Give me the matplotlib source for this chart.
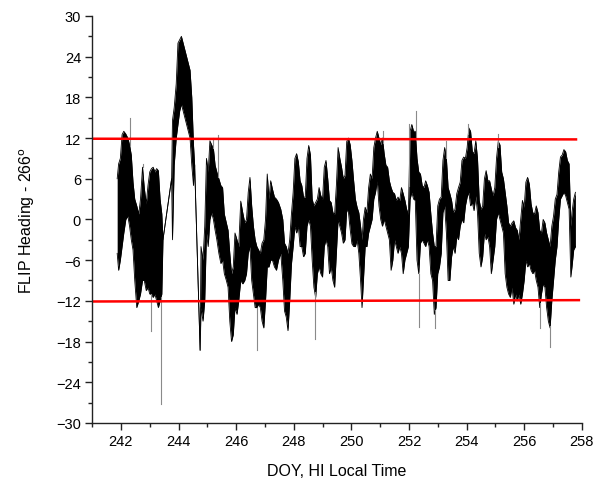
import numpy as np
import matplotlib
matplotlib.use("Agg")
import matplotlib.pyplot as plt
from matplotlib.ticker import MultipleLocator

plt.rcParams['font.family'] = ['Liberation Sans', 'DejaVu Sans']

# ====================================================
# Data (band of the heading trace)
# ====================================================

doy = [241.87, 241.92, 241.98, 242.04, 242.10, 242.17, 242.24, 242.30, 242.36, 242.42,
       242.48, 242.55, 242.62, 242.68, 242.75, 242.81, 242.88, 242.94, 243.00, 243.06,
       243.12, 243.18, 243.24, 243.30, 243.36, 243.42, 243.46, 243.76, 243.79, 243.85,
       243.92, 243.98, 244.04, 244.10, 244.16, 244.22, 244.28, 244.34, 244.40, 244.46,
       244.52, 244.56, 244.75, 244.78, 244.85, 244.91, 244.97, 245.03, 245.09, 245.15,
       245.21, 245.27, 245.33, 245.40, 245.47, 245.53, 245.59, 245.66, 245.72, 245.78,
       245.84, 245.90, 245.96, 246.03, 246.09, 246.16, 246.23, 246.30, 246.36, 246.42,
       246.48, 246.54, 246.60, 246.66, 246.72, 246.78, 246.84, 246.90, 246.96, 247.02,
       247.08, 247.14, 247.20, 247.26, 247.33, 247.40, 247.47, 247.55, 247.62, 247.68,
       247.74, 247.80, 247.86, 247.92, 247.98, 248.04, 248.10, 248.16, 248.22, 248.28,
       248.34, 248.40, 248.46, 248.52, 248.58, 248.64, 248.70, 248.76, 248.82, 248.88,
       248.94, 249.00, 249.06, 249.12, 249.18, 249.24, 249.30, 249.36, 249.42, 249.48,
       249.54, 249.60, 249.66, 249.72, 249.78, 249.84, 249.90, 249.96, 250.02, 250.08,
       250.14, 250.20, 250.26, 250.32, 250.37, 250.42, 250.48, 250.54, 250.60, 250.66,
       250.72, 250.78, 250.84, 250.90, 250.96, 251.02, 251.08, 251.14, 251.20, 251.26,
       251.32, 251.38, 251.44, 251.50, 251.56, 251.62, 251.68, 251.74, 251.80, 251.86,
       251.92, 251.98, 252.04, 252.10, 252.16, 252.22, 252.28, 252.34, 252.40, 252.46,
       252.52, 252.58, 252.64, 252.70, 252.76, 252.82, 252.88, 252.94, 253.00, 253.06,
       253.12, 253.18, 253.24, 253.30, 253.36, 253.42, 253.48, 253.54, 253.60, 253.66,
       253.72, 253.78, 253.84, 253.90, 253.96, 254.02, 254.08, 254.14, 254.20, 254.26,
       254.32, 254.38, 254.44, 254.50, 254.56, 254.62, 254.68, 254.74, 254.80, 254.86,
       254.92, 254.98, 255.04, 255.10, 255.16, 255.22, 255.28, 255.34, 255.40, 255.46,
       255.52, 255.58, 255.64, 255.70, 255.76, 255.82, 255.88, 255.94, 256.00, 256.06,
       256.12, 256.18, 256.24, 256.30, 256.36, 256.42, 256.48, 256.54, 256.60, 256.66,
       256.72, 256.78, 256.84, 256.90, 256.96, 257.02, 257.08, 257.14, 257.20, 257.26,
       257.32, 257.38, 257.44, 257.50, 257.56, 257.62, 257.66, 257.72, 257.78]

heading_lo = [-5, -7.5, -6, -4, -2, 0, 0.5, -1, -3, -4.5,
              -9, -13, -12, -11, -9, -9, -10.5, -10, -11, -11,
              -11.5, -11, -12, -13, -12, -11, -3, 6, -3, 8,
              12, 14, 16, 17, 16, 15, 14, 13, 12, 8,
              5, 8, -19.3, -13, -15, -12, -2, -4, 0, 1,
              0, -1.6, -3, -5, -6.5, -6, -8, -9, -10, -15,
              -18, -17, -13, -14, -12, -9, -9.5, -9, -8, -5,
              -4, -9, -11, -13, -13, -12.5, -13, -15, -16, -12,
              -7, -7, -6, -6, -7, -7.5, -6, -5, -9, -13.5,
              -14.4, -16.4, -12, -6.6, -4, -1, -2, -1, -4, -4,
              -5.5, -5, -1, 0, -1, -6, -10, -11.5, -8, -7,
              -8, -8.5, -4, -3, -4, -8, -7, -9, -10, -5,
              0, -1, -2, -3.5, -3, 1.5, 1, -1.5, -3.6, -4,
              -4, -3, -5, -9, -13, -9, -4, -4, -2, -1,
              0, 3, 4, 5.7, 2, 0, -1, 0, -1, -2,
              -3, -7.5, -6, -3, -4, -5, -4, -5, -8, -6,
              -5, -4, 3, 4, 3, 2.8, -6, -8, -3.5, -3,
              -3.5, -4, -3, -4, -8, -9, -14, -13, -8, -7,
              -5, 1, 2, -2, -9, -9, -5.5, -4, -5, -2.5,
              -3, -1, 0, -0.5, 2, 3.3, 4, 2, 2.5, 1.3,
              3.5, 1, -5, -7, -5.5, -2, -3, -2.5, -4, -8,
              -6, -4, 0, 1, 0, -1, -2, -8, -10, -11,
              -11.5, -10, -12.5, -11, -12, -11, -12.5, -11, -9, -6,
              -7, -6.5, -7.5, -8, -7.5, -9, -10, -13, -11, -9.5,
              -10, -13, -15, -16, -12, -9, -6, -4, 0, 3,
              3.5, 4, 3.5, 2.5, 1.5, -8.5, -7, -4.5, -4]

heading_hi = [6, 8.2, 9, 12.5, 13, 12.6, 12, 11, 9.5, 5.5,
              3, 2, 0.8, 3, 7.7, 4.7, 2.3, 5, 7, 7.5,
              7.7, 7, 7.5, 7.2, 3, 0.8, -3, 6, 14.6, 16.5,
              20, 26, 26.5, 27, 26, 25, 24, 23, 22, 18,
              11, 8, -19.3, -4, -6, -1, 9, 7, 11.6, 11,
              10.5, 8, 7, 6, 5, 4.7, 0.8, -0.5, -1.6, -5,
              -8, -7, -2, -3, -4, 2.7, 1, -0.5, 0, 4,
              6.2, 2, -1, -3, -4, -4.5, -5, -3.5, -3, 0,
              6.7, 3, 5.7, 4.5, 3.3, 3, 2.5, 1.5, 0, -3.5,
              -4, -5, -3, 0.8, 4, 9, 9.7, 8.5, 5.7, 5,
              3.3, 3.3, 9, 10.9, 9.5, 3, 2, 2.5, 3, 4.7,
              3.5, 3, 7.7, 8.7, 6, 2.8, 2.5, 1, 0.8, 5,
              10.6, 9, 7.7, 6, 6.5, 11.5, 12, 11, 8.7, 5.7,
              3, 1.8, 1, -1, -3, 0, 1.8, 1, 4.7, 6.7,
              6, 10.6, 12, 13, 12, 11, 12, 9.7, 8, 7.7,
              5.7, 4.7, 4, 3.8, 2.8, 3.3, 2.8, 4.7, 3.8, 2.8,
              1.5, 0.8, 13, 14, 13, 13, 9, 7, 6.7, 5,
              4.7, 5.7, 5, 4, 0.8, -2, -4, -4, 2, 3,
              3.3, 8.7, 10.6, 9, 4.7, 3.8, 2.8, 1, 1.5, 3.8,
              4.7, 5.5, 8.7, 9.2, 9, 10.6, 13.5, 13, 10, 9.7,
              11.6, 9, 2.8, 1.5, 2, 6, 7.2, 5.7, 5.7, 4.5,
              3.5, 4.7, 9, 11.5, 11, 7, 6, 4, 2, -0.5,
              -1, -0.5, -0.2, -1.2, -1.6, -3, 0, 2.8, 1.8, 5.5,
              6.2, 5.2, 2.3, 1, 0.8, 2, 1, -1.6, -2, 0,
              -0.5, -2, -3, -4, -1, 0.5, 3, 3.7, 7, 9.2,
              9.5, 10.3, 10, 8.7, 8.2, -1, 1, 3, 4]

# isolated spikes (thin grey excursions)
spike_doy = [242.30, 242.75, 243.04, 243.39, 245.20, 245.38, 246.71, 248.73, 251.10,
             252.00, 252.24, 252.34, 252.92, 253.30, 254.06, 255.08, 256.56, 256.88]
spike_val = [15, 8.2, -16.4, -27.2, 12, 12.4, -19.3, -17.6, 13,
             14, 16, -15.9, -16, 11.6, 14, 12.6, -16, -18.8]

# red limit lines
limit_x_upper = [241.0, 257.8]
limit_upper = [11.9, 11.8]
limit_x_lower = [241.0, 257.9]
limit_lower = [-12.1, -11.9]

# ====================================================
# Plot
# ====================================================

fig = plt.figure(figsize=(6.06, 4.85), dpi=100)
ax = fig.add_axes([0.152, 0.126, 0.808, 0.839])

doy_a = np.array(doy)
lo_a = np.array(heading_lo)
hi_a = np.array(heading_hi)

ax.fill_between(doy_a, lo_a, hi_a, color="black", linewidth=0)
ax.plot(doy_a, hi_a, color="black", linewidth=0.6)
ax.plot(doy_a, lo_a, color="black", linewidth=0.6)

# spikes start from the nearest band edge
for sx, sv in zip(spike_doy, spike_val):
    base = np.interp(sx, doy_a, hi_a) if sv > 0 else np.interp(sx, doy_a, lo_a)
    ax.plot([sx, sx], [base, sv], color="#8a8a8a", linewidth=0.8)

ax.plot(limit_x_upper, limit_upper, color="#ff0000", linewidth=1.8)
ax.plot(limit_x_lower, limit_lower, color="#ff0000", linewidth=1.8)

ax.set_xlim(241, 258)
ax.set_ylim(-30, 30)
ax.xaxis.set_minor_locator(MultipleLocator(1))
ax.yaxis.set_major_locator(MultipleLocator(6))
ax.yaxis.set_minor_locator(MultipleLocator(3))
ax.set_xticks(np.arange(242, 259, 2))

for s in ["top", "right"]:
    ax.spines[s].set_visible(False)
for s in ["left", "bottom"]:
    ax.spines[s].set_color("#222222")
    ax.spines[s].set_linewidth(1.0)

ax.tick_params(which="major", direction="out", length=5, width=1, color="#222222",
               labelsize=10.5, pad=3)
ax.tick_params(which="minor", direction="out", length=3, width=1, color="#222222")

ax.set_xlabel("DOY, HI Local Time", fontsize=11.5, labelpad=11)
ax.set_ylabel("FLIP Heading - 266$^{\\rm o}$", fontsize=11.5, labelpad=14)

fig.savefig("out.png", dpi=100)
